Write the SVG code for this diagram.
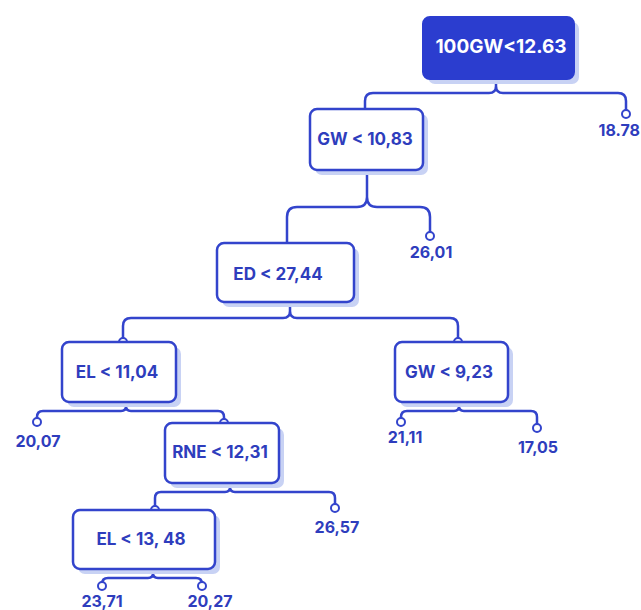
<svg xmlns="http://www.w3.org/2000/svg" width="641" height="610" viewBox="0 0 641 610">
<style>
.box{fill:#fff;stroke:#3344cc;stroke-width:2.5}
.root{fill:#2b3dcf;stroke:#2b3dcf;stroke-width:2}
.sh{fill:#c8d2f4}
.t{font-family:Inter,"Liberation Sans",sans-serif;font-weight:700;font-size:17px;fill:#2e3dbd;text-anchor:middle}
.l{font-size:16px}
.rt{font-size:19px;fill:#fff}
.c{fill:none;stroke:#3344cc;stroke-width:2.5;stroke-linecap:round;stroke-linejoin:round}
.dot{fill:#fff;stroke:#3344cc;stroke-width:2}
</style>
<rect width="641" height="610" fill="#fff"/>
<g id="connectors">
<path class="c" d="M365,109 V101 Q365,93 373,93 H489 Q496,93 496,86 V79 M626,110 V101 Q626,93 618,93 H503 Q496,93 496,86"/>
<path class="c" d="M287,243 V217 Q287,207 297,207 H357 Q367,207 367,197 V170 M430,232 V217 Q430,207 420,207 H377 Q367,207 367,197"/>
<path class="c" d="M123,338 V326 Q123,318 131,318 H283 Q290,318 290,311 V302 M458,338 V326 Q458,318 450,318 H297 Q290,318 290,311"/>
<path class="c" d="M37,418 V417 Q37,411 43,411 H121 Q126,411 126,406 V402 M224,419 V417 Q224,411 218,411 H131 Q126,411 126,406"/>
<path class="c" d="M401,418 V417 Q401,411 407,411 H454 Q459,411 459,406 V402 M537,424 V417 Q537,411 531,411 H464 Q459,411 459,406"/>
<path class="c" d="M155,506 V498 Q155,492 161,492 H225 Q230,492 230,487 V483 M335,504 V498 Q335,492 329,492 H235 Q230,492 230,487"/>
<path class="c" d="M102,582 V584 Q102,578 108,578 H148 Q153,578 153,573 V569 M202,582 V584 Q202,578 196,578 H158 Q153,578 153,573"/>
<circle class="dot" cx="626" cy="114" r="4"/>
<circle class="dot" cx="430" cy="236" r="4"/>
<circle class="dot" cx="123" cy="342" r="4"/>
<circle class="dot" cx="458" cy="342" r="4"/>
<circle class="dot" cx="37" cy="422" r="4"/>
<circle class="dot" cx="224" cy="423" r="4"/>
<circle class="dot" cx="401" cy="422" r="4"/>
<circle class="dot" cx="537" cy="428" r="4"/>
<circle class="dot" cx="155" cy="510" r="4"/>
<circle class="dot" cx="335" cy="508" r="4"/>
<circle class="dot" cx="102" cy="586" r="4"/>
<circle class="dot" cx="202" cy="586" r="4"/>
</g>
<g id="n-root">
<rect class="sh" x="428" y="22" width="151" height="62" rx="7"/>
<rect class="root" x="423" y="17" width="151" height="62" rx="7"/>
<text class="t rt" x="501" y="53">100GW&lt;12.63</text>
</g>
<g id="n-gw1">
<rect class="sh" x="315" y="114" width="113" height="61" rx="7"/>
<rect class="box" x="310" y="109" width="113" height="61" rx="7"/>
<text class="t" x="365" y="145">GW &lt; 10,83</text>
</g>
<g id="n-ed">
<rect class="sh" x="222" y="248" width="137" height="59" rx="7"/>
<rect class="box" x="217" y="243" width="137" height="59" rx="7"/>
<text class="t" x="278" y="280">ED &lt; 27,44</text>
</g>
<g id="n-el1">
<rect class="sh" x="67" y="347" width="114" height="60" rx="7"/>
<rect class="box" x="62" y="342" width="114" height="60" rx="7"/>
<text class="t" x="117" y="378">EL &lt; 11,04</text>
</g>
<g id="n-gw2">
<rect class="sh" x="400" y="347" width="113" height="60" rx="7"/>
<rect class="box" x="395" y="342" width="113" height="60" rx="7"/>
<text class="t" x="449" y="378">GW &lt; 9,23</text>
</g>
<g id="n-rne">
<rect class="sh" x="170" y="428" width="114" height="60" rx="7"/>
<rect class="box" x="165" y="423" width="114" height="60" rx="7"/>
<text class="t" x="220" y="458">RNE &lt; 12,31</text>
</g>
<g id="n-el2">
<rect class="sh" x="78" y="515" width="142" height="59" rx="7"/>
<rect class="box" x="73" y="510" width="142" height="59" rx="7"/>
<text class="t" x="141" y="545">EL &lt; 13, 48</text>
</g>
<g id="leaves">
<text class="t l" x="640" y="136" style="text-anchor:end">18.78</text>
<text class="t l" x="431" y="258">26,01</text>
<text class="t l" x="38" y="447">20,07</text>
<text class="t l" x="405" y="443">21,11</text>
<text class="t l" x="538" y="453">17,05</text>
<text class="t l" x="337" y="533">26,57</text>
<text class="t l" x="102" y="607">23,71</text>
<text class="t l" x="210" y="607">20,27</text>
</g>
</svg>
